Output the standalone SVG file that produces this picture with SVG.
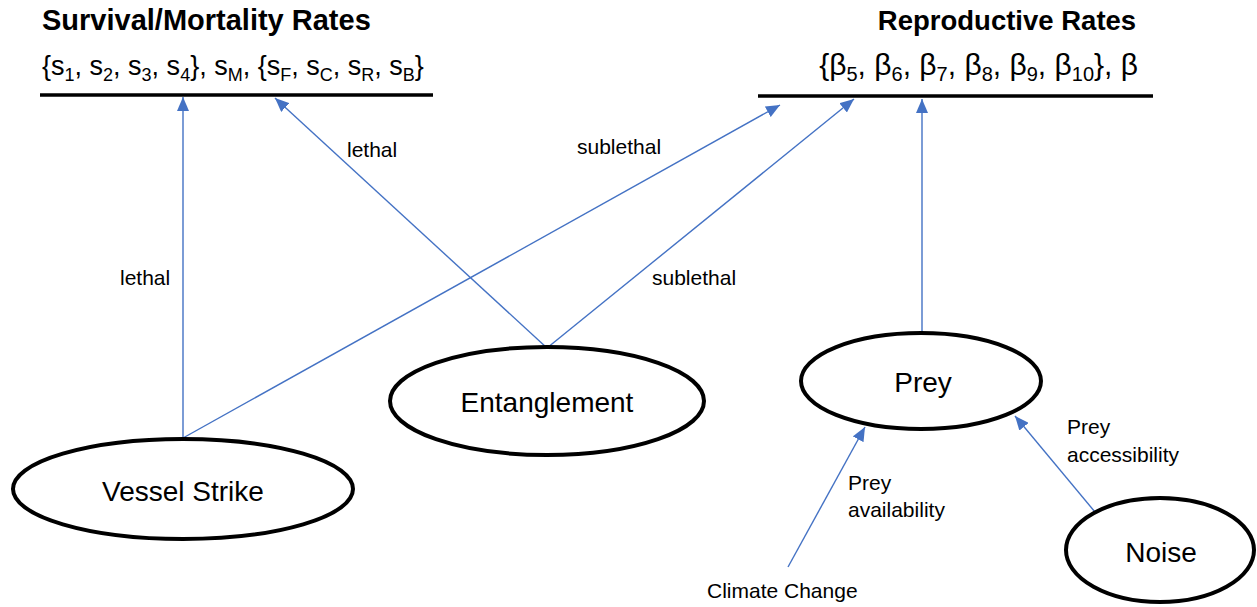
<svg xmlns="http://www.w3.org/2000/svg" width="1257" height="607" viewBox="0 0 1257 607">
<style>
text{font-family:"Liberation Sans",Arial,sans-serif;fill:#000}
.title{font-weight:bold}
.node{font-size:28px;text-anchor:middle}
.lbl{font-size:21px}
.sub{font-size:18px}
.bsub{font-size:20px}
.bar{stroke:#000;stroke-width:3.5}
.ell{fill:#fff;stroke:#000;stroke-width:4}
.conn{stroke:#4472C4;stroke-width:1.4;fill:none}
</style>
<defs>
<marker id="ah" markerUnits="userSpaceOnUse" markerWidth="14" markerHeight="12" refX="14" refY="6" orient="auto">
<path d="M0,0 L14,6 L0,12 z" fill="#4472C4"/>
</marker>
</defs>
<g id="survival">
<text class="title" x="42" y="30" style="font-size:29px">Survival/Mortality Rates</text>
<text x="42" y="75" style="font-size:27px">{s<tspan dy="6" class="sub">1</tspan><tspan dy="-6">, s</tspan><tspan dy="6" class="sub">2</tspan><tspan dy="-6">, s</tspan><tspan dy="6" class="sub">3</tspan><tspan dy="-6">, s</tspan><tspan dy="6" class="sub">4</tspan><tspan dy="-6">}, s</tspan><tspan dy="6" class="sub">M</tspan><tspan dy="-6">, {s</tspan><tspan dy="6" class="sub">F</tspan><tspan dy="-6">, s</tspan><tspan dy="6" class="sub">C</tspan><tspan dy="-6">, s</tspan><tspan dy="6" class="sub">R</tspan><tspan dy="-6">, s</tspan><tspan dy="6" class="sub">B</tspan><tspan dy="-6">}</tspan></text>
<line class="bar" x1="40" y1="95" x2="433" y2="95"/>
</g>
<g id="reproductive">
<text class="title" x="1007" y="30" text-anchor="middle" style="font-size:27.5px">Reproductive Rates</text>
<text x="1138" y="75" text-anchor="end" style="font-size:30px">{β<tspan dy="6" class="bsub">5</tspan><tspan dy="-6">, β</tspan><tspan dy="6" class="bsub">6</tspan><tspan dy="-6">, β</tspan><tspan dy="6" class="bsub">7</tspan><tspan dy="-6">, β</tspan><tspan dy="6" class="bsub">8</tspan><tspan dy="-6">, β</tspan><tspan dy="6" class="bsub">9</tspan><tspan dy="-6">, β</tspan><tspan dy="6" class="bsub">10</tspan><tspan dy="-6">}, β</tspan></text>
<line class="bar" x1="758" y1="96" x2="1153" y2="96"/>
</g>
<g id="connectors">
<line class="conn" x1="183" y1="438" x2="183" y2="97" marker-end="url(#ah)"/>
<line class="conn" x1="183" y1="438" x2="780" y2="105" marker-end="url(#ah)"/>
<line class="conn" x1="547" y1="348" x2="275" y2="98" marker-end="url(#ah)"/>
<line class="conn" x1="547" y1="348" x2="854" y2="99" marker-end="url(#ah)"/>
<line class="conn" x1="922" y1="333" x2="922" y2="99" marker-end="url(#ah)"/>
<line class="conn" x1="788" y1="567" x2="865" y2="427" marker-end="url(#ah)"/>
<line class="conn" x1="1095" y1="512" x2="1015" y2="416" marker-end="url(#ah)"/>
<text class="lbl" x="120" y="285">lethal</text>
<text class="lbl" x="347" y="157">lethal</text>
<text class="lbl" x="577" y="154">sublethal</text>
<text class="lbl" x="652" y="285">sublethal</text>
<text class="lbl" x="848" y="490">Prey</text>
<text class="lbl" x="848" y="517">availability</text>
<text class="lbl" x="1067" y="434">Prey</text>
<text class="lbl" x="1067" y="462">accessibility</text>
</g>
<g id="vessel-strike">
<ellipse class="ell" cx="183" cy="489" rx="170" ry="50"/>
<text class="node" x="183" y="501">Vessel Strike</text>
</g>
<g id="entanglement">
<ellipse class="ell" cx="547" cy="401" rx="157" ry="54"/>
<text class="node" x="547" y="412">Entanglement</text>
</g>
<g id="prey">
<ellipse class="ell" cx="921" cy="381" rx="120" ry="48"/>
<text class="node" x="923" y="392">Prey</text>
</g>
<g id="noise">
<ellipse class="ell" cx="1160" cy="550" rx="94" ry="52"/>
<text class="node" x="1161" y="562">Noise</text>
</g>
<g id="climate-change">
<text class="lbl" x="707" y="598">Climate Change</text>
</g>
</svg>
